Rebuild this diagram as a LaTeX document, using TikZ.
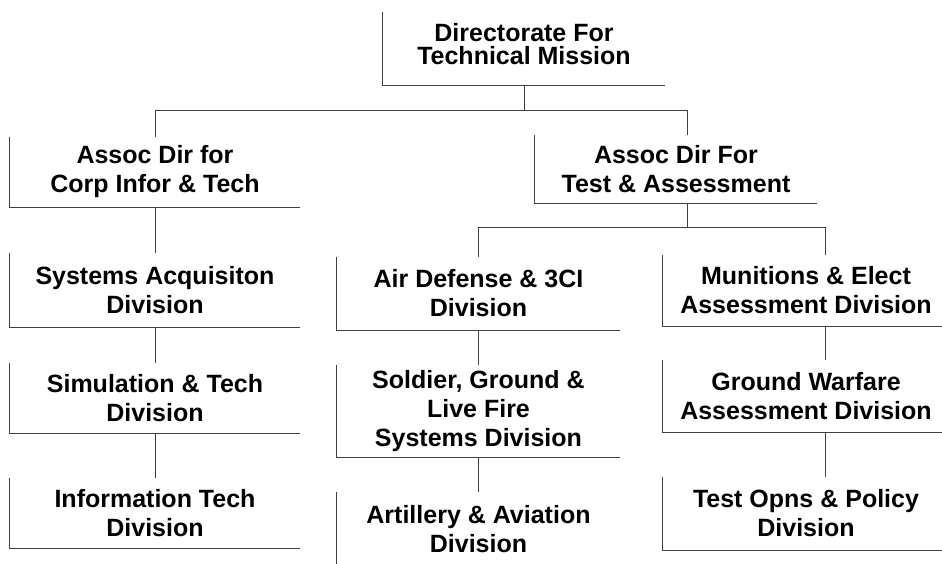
\documentclass[tikz,border=0pt]{standalone}
\usepackage{fontspec}
\setmainfont{Liberation Sans}
\usepackage{tikz}
\usetikzlibrary{positioning}

\begin{document}
\begin{tikzpicture}[
  x=1pt, y=-1pt,
  unit/.style  = {inner sep=0pt, align=center,
                  font=\bfseries\fontsize{25}{29}\selectfont},
  edge/.style  = {draw=black!75, line width=0.9pt},
  link/.style  = {draw=black!75, line width=0.9pt}
]
\useasboundingbox (0,0) rectangle (942,563);
\clip (0,0) rectangle (942,563);

\node[unit, minimum width=282pt, minimum height=73pt, text depth=9pt,
      font=\bfseries\fontsize{25}{23.5}\selectfont] (dtm) at (524,48.5)
  {Directorate For\\Technical Mission};

\node[unit, minimum width=290pt, minimum height=70pt] (aci) at (155,172)
  {Assoc Dir for\\Corp Infor \& Tech};
\node[unit, minimum width=282pt, minimum height=68pt] (ata) at (676,169)
  {Assoc Dir For\\Test \& Assessment};

\node[unit, minimum width=290pt, minimum height=74pt] (sad) at (155,290)
  {Systems Acquisiton\\Division};
\node[unit, minimum width=290pt, minimum height=70pt] (std) at (155,398)
  {Simulation \& Tech\\Division};
\node[unit, minimum width=290pt, minimum height=70pt] (itd) at (155,513)
  {Information Tech\\Division};

\node[unit, minimum width=283pt, minimum height=73pt] (add) at (478.5,293.5)
  {Air Defense \& 3CI\\Division};
\node[unit, minimum width=283pt, minimum height=92pt] (sgl) at (478.5,411)
  {Soldier, Ground \&\\Live Fire\\Systems Division};
\node[unit, minimum width=283pt, minimum height=75pt] (aad) at (478.5,529.5)
  {Artillery \& Aviation\\Division};

\node[unit, minimum width=286pt, minimum height=71pt] (mea) at (806,290.5)
  {Munitions \& Elect\\Assessment Division};
\node[unit, minimum width=286pt, minimum height=72pt] (gwa) at (806,396)
  {Ground Warfare\\Assessment Division};
\node[unit, minimum width=286pt, minimum height=73pt] (top) at (806,513.5)
  {Test Opns \& Policy\\Division};

\foreach \n in {dtm,aci,ata,sad,std,itd,add,sgl,aad,mea,gwa,top}
  \draw[edge] (\n.north west) |- (\n.south east);

\draw[link] (dtm.south) -- ++(0,25) -| (aci.north);
\draw[link] (dtm.south) ++(0,25) -| ([xshift=11pt]ata.north);

\draw[link] ([xshift=11pt]ata.south) -- ++(0,24) -| (add.north);
\draw[link] ([xshift=11pt]ata.south) ++(0,24) -| ([xshift=19pt]mea.north);

\draw[link] (aci) -- (sad) -- (std) -- (itd);
\draw[link] (add) -- (sgl) -- (aad);
\draw[link] ([xshift=19pt]mea.south) -- ([xshift=19pt]gwa.north);
\draw[link] ([xshift=19pt]gwa.south) -- ([xshift=19pt]top.north);
\end{tikzpicture}
\end{document}
